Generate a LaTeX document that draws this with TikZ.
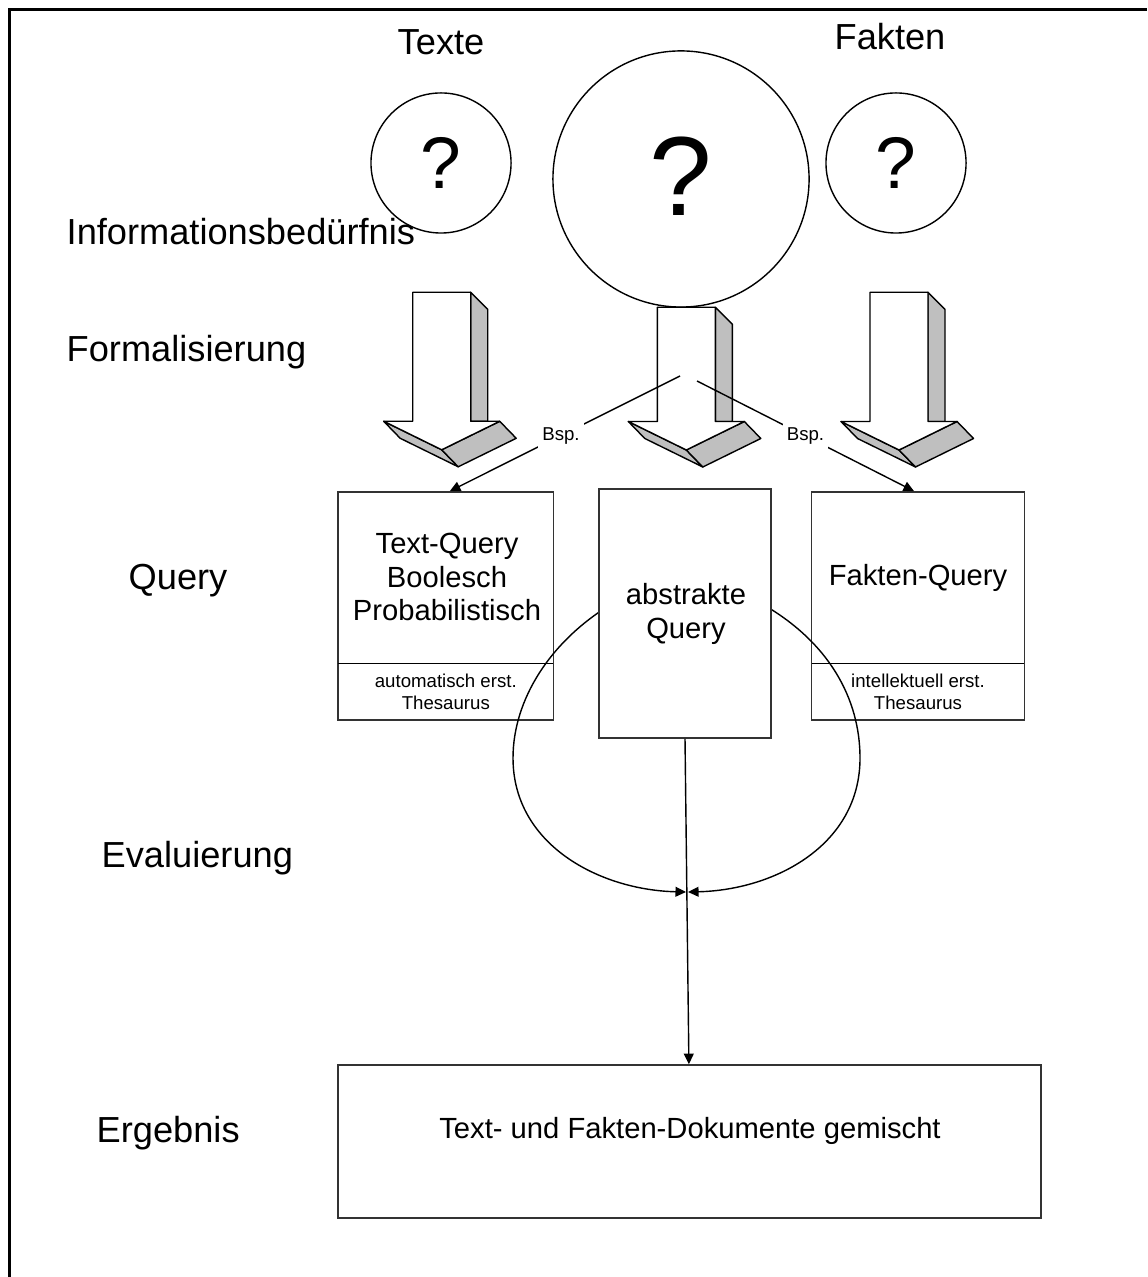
\documentclass[tikz,border=0pt]{standalone}
\usepackage{fontspec}
\setmainfont{Liberation Sans}
\usetikzlibrary{arrows.meta,calc}
\newcommand\bigfs{\fontsize{10.3}{12}\selectfont}
\newcommand\midfs{\fontsize{8.3}{9.5}\selectfont}
\newcommand\smallfs{\fontsize{5.3}{6.3}\selectfont}
\newcommand\qsmallfs{\fontsize{20.8}{24}\selectfont}
\newcommand\qbigfs{\fontsize{32}{36}\selectfont}
\newcommand\fatarrow[3]{%
  \pgfmathsetmacro\faR{#1+58}%
  \pgfmathsetmacro\faC{#1+29}%
  \pgfmathsetmacro\faLt{#1-29}%
  \pgfmathsetmacro\faRt{#1+87}%
  \pgfmathsetmacro\faTip{#3+28.5}%
  \filldraw[arrgray] (\faR,#2) -- (\faR+17,#2+17) -- (\faR+17,#3) -- (\faR,#3) -- cycle;
  \filldraw[arrgray] (\faLt,#3) -- (\faC,\faTip) -- (\faC+16.5,\faTip+17) -- (\faLt+16.5,#3+17) -- cycle;
  \filldraw[arrgray] (\faC,\faTip) -- (\faRt,#3) -- (\faRt+16.5,#3+17) -- (\faC+16.5,\faTip+17) -- cycle;
  \filldraw[arrwhite] (#1,#2) -- (\faR,#2) -- (\faR,#3) -- (\faRt,#3) -- (\faC,\faTip) -- (\faLt,#3) -- (#1,#3) -- cycle;
}
\begin{document}
\begin{tikzpicture}[x=0.01cm,y=-0.01cm,
  thinline/.style={line width=0.4pt,draw=black},
  arrgray/.style={fill=black!25,draw=black,line width=0.4pt,line join=round},
  arrwhite/.style={fill=white,draw=black,line width=0.4pt,line join=round},
  qcircle/.style={circle,draw=black,line width=0.4pt,inner sep=0pt},
  boxnode/.style={rectangle,draw=black!80,line width=0.45pt,inner sep=0pt},
  label big/.style={font=\bigfs,inner sep=0pt},
  arrowtip/.style={-{Triangle[length=3pt,width=2.8pt]}},
  bsplabel/.style={font=\smallfs,fill=white,inner sep=1.2pt}]
\useasboundingbox (0,0) rectangle (1147,1277);
% frame
\draw[line width=0.85pt] (9.5,1277) -- (9.5,9.5) -- (1147,9.5);
% titles
\node[label big,anchor=base] (texte) at (441,55) {Texte};
\node[label big,anchor=base] (fakten) at (890,50) {Fakten};
% circles
\node[qcircle,minimum size=1.4cm,font=\qsmallfs] (c1) at (441,163) {?};
\node[qcircle,minimum size=2.56cm,font=\qbigfs] (c2) at (681,179) {\raisebox{1.8pt}{?}};
\node[qcircle,minimum size=1.4cm,font=\qsmallfs] (c3) at (896,163) {?};
% left labels
\node[label big,anchor=base west] (info) at (66,245) {Informationsbedürfnis};
\node[label big,anchor=base west] (formal) at (66,362) {Formalisierung};
\node[label big,anchor=base west] (query) at (128,590) {Query};
\node[label big,anchor=base west] (eval) at (101,867) {Evaluierung};
\node[label big,anchor=base west] (erg) at (96,1142) {Ergebnis};
% block arrows
\fatarrow{412.7}{292.3}{421.3}
\fatarrow{657.3}{307.3}{421.5}
\fatarrow{870}{292.3}{421.5}
% side boxes
\node[boxnode,minimum width=2.15cm,minimum height=2.28cm] (tq) at (445.8,606) {};
\node[boxnode,minimum width=2.126cm,minimum height=2.28cm] (fq) at (918,606) {};
\draw[thinline] (338.3,663.3) -- (553.3,663.3);
\draw[thinline] (811.7,663.3) -- (1024.3,663.3);
\node[font=\midfs,align=center] (tqtext) at (447,577) {Text-Query\\Boolesch\\Probabilistisch};
\node[font=\smallfs,align=center] (tqsub) at (445.8,692) {automatisch erst.\\Thesaurus};
\node[font=\midfs,align=center] (fqtext) at (918,578) {Fakten-Query};
\node[font=\smallfs,align=center] (fqsub) at (918,692) {intellektuell erst.\\Thesaurus};
% Bsp connectors
\coordinate (bspl) at (680,376);
\coordinate (bspr) at (697,381);
\draw[thinline,arrowtip] (bspl) -- node[bsplabel,pos=0.517] {Bsp.} ($(tq.north)+(4,0)$);
\draw[thinline,arrowtip] (bspr) -- node[bsplabel,pos=0.5] {Bsp.} ($(fq.north)-(4,0)$);
% evaluation curves
\coordinate (ev) at (687,892);
\draw[thinline,arrowtip] (615,602) .. controls (550,640) and (513,700) .. (513,758)
  .. controls (513,845) and (600,890) .. ($(ev)+(-1,0)$);
\draw[thinline,arrowtip] (755,600) .. controls (830,640) and (860,700) .. (860,758)
  .. controls (860,845) and (775,890) .. ($(ev)+(1,0)$);
% abstract query box
\node[boxnode,fill=white,minimum width=1.72cm,minimum height=2.49cm] (aq) at (685,613.5) {};
\node[font=\midfs,align=center] (aqtext) at (686,614) {abstrakte\\Query};
% result box
\node[boxnode,minimum width=7.022cm,minimum height=1.527cm] (res) at (689.4,1141.4) {};
\node[font=\midfs] (restext) at (690,1131) {Text- und Fakten-Dokumente gemischt};
\draw[thinline,arrowtip] (aq.south) -- ($(res.north)-(0.5,0)$);
\end{tikzpicture}
\end{document}
